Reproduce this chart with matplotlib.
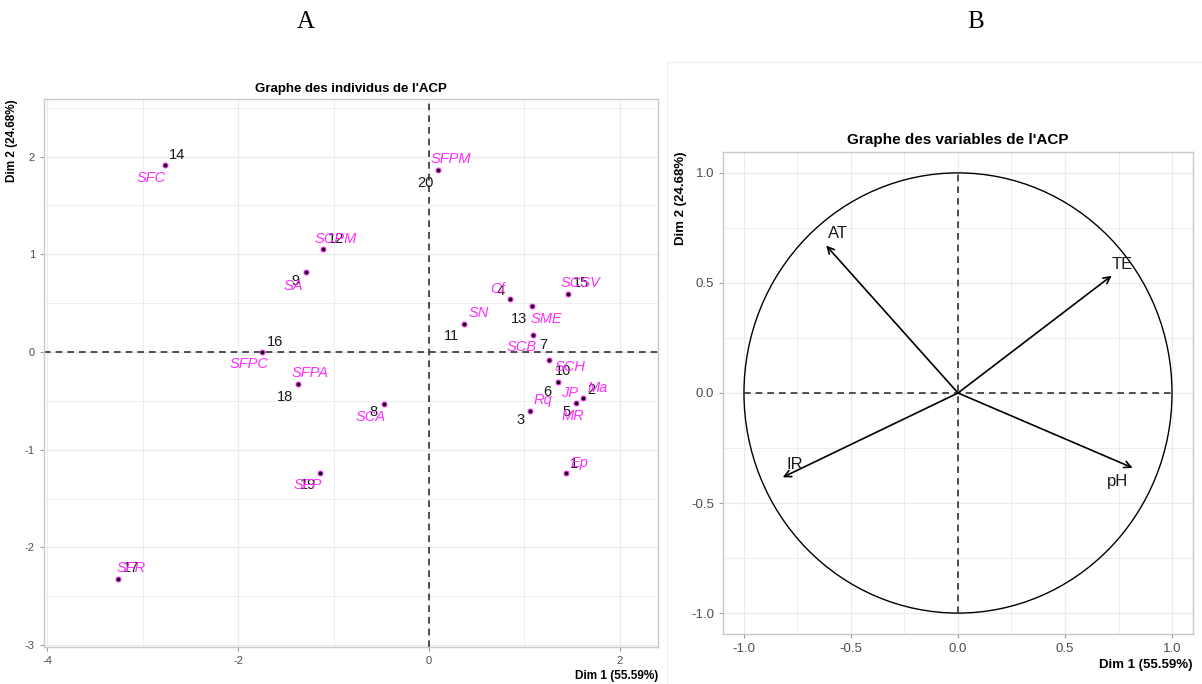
import matplotlib.pyplot as plt
from matplotlib.patches import Circle, Rectangle
from matplotlib.ticker import MultipleLocator

plt.rcParams['font.family'] = ['Liberation Sans', 'DejaVu Sans']
plt.rcParams['axes.unicode_minus'] = False

# individus (coordonnées sur Dim 1 / Dim 2)
num = [1, 2, 3, 4, 5, 6, 7, 8, 9, 10, 11, 12, 13, 14, 15, 16, 17, 18, 19, 20]
noms = ['Ep', 'Ma', 'Rq', 'Cf', 'MR', 'JP', 'SCB', 'SCA', 'SA', 'SCH',
        'SN', 'SCPM', 'SME', 'SFC', 'SCSV', 'SFPC', 'SFR', 'SFPA', 'SFP', 'SFPM']
dim1 = [1.436, 1.612, 1.060, 0.852, 1.546, 1.347, 1.095, -0.473, -1.285, 1.254,
        0.371, -1.109, 1.082, -2.765, 1.453, -1.745, -3.255, -1.378, -1.144, 0.097]
dim2 = [-1.238, -0.469, -0.602, 0.545, -0.527, -0.303, 0.177, -0.537, 0.814, -0.085,
        0.286, 1.053, 0.470, 1.918, 0.589, -0.003, -2.327, -0.323, -1.235, 1.864]

# décalage des étiquettes (pixels, x vers la droite, y vers le bas)
off_num = [(8, -9), (9, -8), (-10, 9), (-10, -8), (-10, 9), (-10, 10), (10, 10), (-10, 8),
           (-11, 9), (14, 11), (-13, 12), (13, -10), (-13, 13), (12, -10), (13, -11),
           (13, -10), (13, -11), (-13, 13), (-12, 12), (-13, 13)]
off_nom = [(13, -10), (15, -10), (13, -11), (-13, -10), (-4, 13), (12, 11), (-12, 12), (-13, 13),
           (-13, 14), (21, 7), (14, -11), (13, -10), (14, 13), (-14, 13), (13, -11),
           (-13, 12), (13, -11), (13, -11), (-12, 12), (13, -11)]

# variables
variables = ['AT', 'TE', 'IR', 'pH']
var_d1 = [-0.616, 0.718, -0.819, 0.816]
var_d2 = [0.670, 0.533, -0.383, -0.340]
off_var = [(12, -12), (11, -11), (12, -13), (-15, 14)]

rose = '#FF2EFF'
grille = '#EBEBEB'

fig = plt.figure(figsize=(12.02, 6.84), dpi=100)

def style_axes(ax, fs):
    for s in ax.spines.values():
        s.set_color('#C8C8C8')
        s.set_linewidth(1)
    ax.grid(which='major', color=grille, lw=0.9)
    ax.grid(which='minor', color=grille, lw=0.6)
    ax.set_axisbelow(True)
    ax.tick_params(which='major', length=3, color='#9A9A9A', labelcolor='#4D4D4D', labelsize=fs)
    ax.tick_params(which='minor', length=0)

# ---- A : graphe des individus
ax1 = fig.add_axes([0.0366, 0.0541, 0.5108, 0.8012])
ax1.set_xlim(-4.035, 2.40)
ax1.set_ylim(-3.02, 2.59)
ax1.xaxis.set_major_locator(MultipleLocator(2))
ax1.xaxis.set_minor_locator(MultipleLocator(1))
ax1.yaxis.set_major_locator(MultipleLocator(1))
ax1.yaxis.set_minor_locator(MultipleLocator(0.5))
style_axes(ax1, 8)
ax1.axhline(0, color='#333333', lw=1.2, ls=(0, (4, 3)))
ax1.axvline(0, color='#333333', lw=1.2, ls=(0, (4, 3)))
ax1.plot(dim1, dim2, 'o', ms=3.5, mfc='black', mec=rose, mew=0.8, ls='none')
for i in range(len(num)):
    ax1.annotate(str(num[i]), (dim1[i], dim2[i]), xytext=(off_num[i][0], -off_num[i][1]),
                 textcoords='offset pixels', ha='center', va='center', fontsize=10.5, color='#1A1A1A')
    ax1.annotate(noms[i], (dim1[i], dim2[i]), xytext=(off_nom[i][0], -off_nom[i][1]),
                 textcoords='offset pixels', ha='center', va='center', fontsize=10.5,
                 color=rose, style='italic')
ax1.set_title("Graphe des individus de l'ACP", fontsize=9.5, fontweight='bold', pad=5)
ax1.set_xlabel('Dim 1 (55.59%)', loc='right', fontsize=8.5, fontweight='bold', labelpad=3)
ax1.set_ylabel('Dim 2 (24.68%)', loc='top', fontsize=8.5, fontweight='bold', labelpad=5)

# ---- B : graphe des variables
ax2 = fig.add_axes([0.6015, 0.0731, 0.391, 0.7047])
ax2.set_xlim(-1.098, 1.098)
ax2.set_ylim(-1.095, 1.095)
ax2.xaxis.set_major_locator(MultipleLocator(0.5))
ax2.xaxis.set_minor_locator(MultipleLocator(0.25))
ax2.yaxis.set_major_locator(MultipleLocator(0.5))
ax2.yaxis.set_minor_locator(MultipleLocator(0.25))
ax2.xaxis.set_major_formatter(lambda v, p: f'{v:.1f}')
ax2.yaxis.set_major_formatter(lambda v, p: f'{v:.1f}')
style_axes(ax2, 9.5)
ax2.add_patch(Circle((0, 0), 1, fill=False, color='black', lw=1))
ax2.plot([-1, 1], [0, 0], color='#333333', lw=1.2, ls=(0, (4, 3)))
ax2.plot([0, 0], [-1, 1], color='#333333', lw=1.2, ls=(0, (4, 3)))
for i in range(len(variables)):
    ax2.annotate('', xy=(var_d1[i], var_d2[i]), xytext=(0, 0),
                 arrowprops=dict(arrowstyle='->', color='black', lw=1.2,
                                 shrinkA=0, shrinkB=0, mutation_scale=12))
    ax2.annotate(variables[i], (var_d1[i], var_d2[i]), xytext=(off_var[i][0], -off_var[i][1]),
                 textcoords='offset pixels', ha='center', va='center', fontsize=12, color='#1A1A1A')
ax2.set_title("Graphe des variables de l'ACP", fontsize=11, fontweight='bold', pad=6)
ax2.set_xlabel('Dim 1 (55.59%)', loc='right', fontsize=9.5, fontweight='bold', labelpad=3)
ax2.set_ylabel('Dim 2 (24.68%)', loc='top', fontsize=9.5, fontweight='bold', labelpad=3)

# cadre léger autour du graphe B
fig.add_artist(Rectangle((0.555, -0.01), 0.46, 0.919, transform=fig.transFigure,
                         fill=False, edgecolor='#F0F0F0', lw=1))

fig.text(0.2546, 0.968, 'A', ha='center', va='center', fontsize=18, family='Liberation Serif')
fig.text(0.812, 0.968, 'B', ha='center', va='center', fontsize=18, family='Liberation Serif')

plt.savefig('out.png', dpi=100)
